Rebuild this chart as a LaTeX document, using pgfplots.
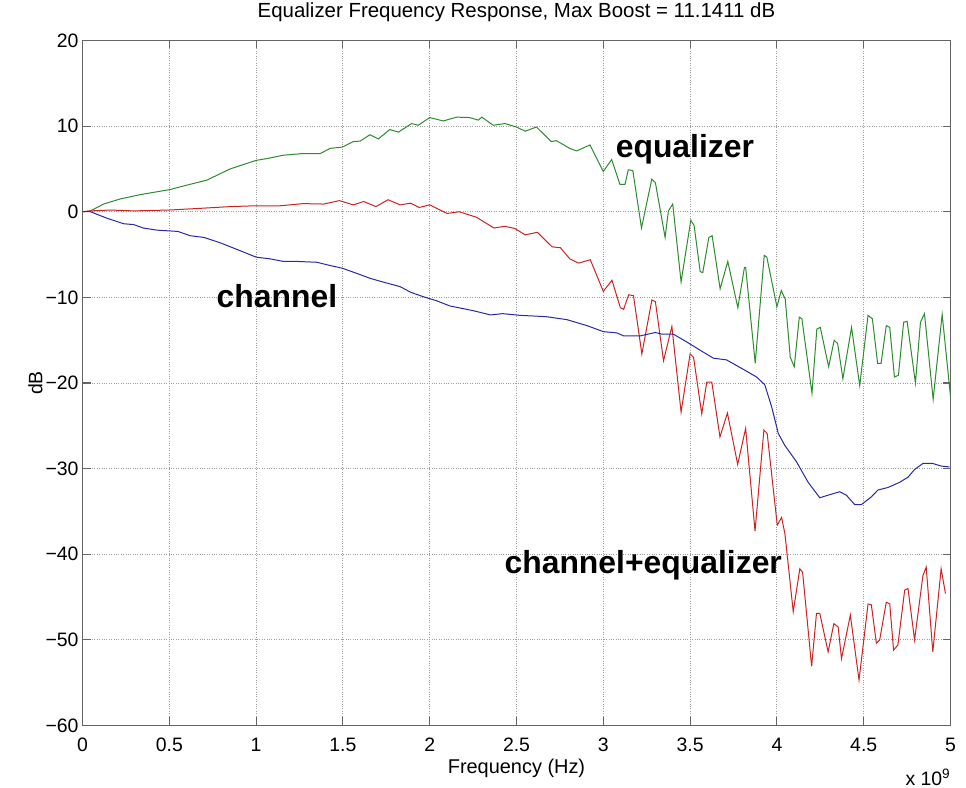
\documentclass[border=0pt]{standalone}
\usepackage{fontspec}
\setmainfont{Liberation Sans}
\usepackage{pgfplots}
\usepackage{pgfplotstable}
\pgfplotsset{compat=1.18}
\definecolor{eqgreen}{RGB}{45,140,45}
\definecolor{chred}{RGB}{205,35,35}
\definecolor{chblue}{RGB}{40,40,170}
\definecolor{axgray}{RGB}{100,100,100}

\pgfplotstableread{
x y
0 0
0.046 0.1
0.122 0.9
0.218 1.5
0.333 2.0
0.506 2.6
0.58 3.0
0.717 3.7
0.85 5.0
1.0 6.0
1.06 6.2
1.157 6.6
1.27 6.8
1.37 6.8
1.426 7.4
1.497 7.55
1.56 8.2
1.6 8.25
1.656 9.0
1.704 8.5
1.77 9.6
1.82 9.3
1.896 10.3
1.934 10.1
2.0 11.0
2.078 10.6
2.155 11.05
2.23 11.0
2.28 10.7
2.3 11.05
2.366 10.1
2.433 10.3
2.5 9.9
2.55 9.4
2.615 9.9
2.7 8.2
2.73 8.3
2.807 7.4
2.846 7.1
2.923 7.8
3.0 4.7
3.048 6.1
3.096 3.2
3.125 3.2
3.144 4.9
3.17 4.8
3.22 -1.9
3.279 3.8
3.30 3.4
3.356 -3.0
3.375 0.1
3.40 0.9
3.448 -8.2
3.504 -1.0
3.523 -1.6
3.558 -7.0
3.573 -7.1
3.608 -3.0
3.627 -2.8
3.673 -9.0
3.717 -5.8
3.775 -11.2
3.813 -6.5
3.82 -6.5
3.875 -17.7
3.927 -5.1
3.942 -5.3
4.0 -11.1
4.025 -9.2
4.048 -10.2
4.077 -17.0
4.1 -18.1
4.129 -12.3
4.144 -12.5
4.202 -21.2
4.23 -13.7
4.25 -13.5
4.298 -18.1
4.33 -15.0
4.35 -15.4
4.38 -19.5
4.43 -13.5
4.477 -20.3
4.525 -12.1
4.55 -12.5
4.58 -17.7
4.6 -17.7
4.63 -13.3
4.65 -13.5
4.677 -19.3
4.70 -19.1
4.73 -12.9
4.75 -12.8
4.798 -20.0
4.827 -12.9
4.85 -11.9
4.9 -21.9
4.952 -12.0
5.0 -21.6
}\equalizer

\pgfplotstableread{
x y
0 0
0.046 0.1
0.16 0.2
0.295 0.1
0.5 0.2
0.68 0.4
0.85 0.6
1.0 0.7
1.14 0.7
1.27 0.95
1.39 0.9
1.48 1.3
1.56 0.8
1.62 1.2
1.69 0.6
1.76 1.4
1.83 0.8
1.89 1.0
1.94 0.5
2.0 0.8
2.1 -0.2
2.17 0.0
2.27 -0.65
2.37 -1.9
2.433 -1.7
2.49 -1.95
2.55 -2.7
2.62 -2.4
2.705 -4.1
2.753 -4.2
2.807 -5.5
2.858 -6.0
2.925 -5.6
3.0 -9.3
3.05 -8.0
3.098 -11.2
3.117 -11.4
3.146 -9.7
3.174 -9.8
3.222 -16.6
3.28 -10.3
3.30 -10.5
3.347 -17.4
3.395 -13.4
3.448 -23.4
3.50 -16.6
3.52 -17.0
3.567 -23.6
3.596 -19.9
3.625 -19.9
3.672 -26.3
3.715 -23.5
3.774 -29.5
3.82 -25.3
3.874 -37.3
3.925 -25.5
3.944 -25.9
4.002 -36.6
4.027 -35.7
4.046 -37.6
4.071 -42.3
4.094 -46.7
4.132 -41.7
4.148 -42.1
4.2 -53.1
4.228 -46.9
4.247 -46.9
4.295 -51.4
4.328 -48.1
4.353 -48.5
4.372 -52.2
4.423 -47.1
4.473 -54.7
4.525 -45.8
4.544 -45.9
4.573 -50.4
4.592 -50.0
4.63 -45.6
4.65 -45.8
4.672 -51.2
4.697 -50.6
4.736 -44.2
4.755 -44.0
4.793 -50.0
4.841 -42.5
4.86 -41.5
4.898 -51.4
4.946 -41.7
4.971 -44.6
}\combined

\pgfplotstableread{
x y
0 0
0.046 0.0
0.14 -0.75
0.237 -1.4
0.295 -1.5
0.35 -1.9
0.43 -2.15
0.55 -2.3
0.62 -2.8
0.7 -3.0
0.79 -3.6
0.89 -4.4
1.0 -5.3
1.08 -5.5
1.157 -5.8
1.234 -5.8
1.35 -5.9
1.41 -6.2
1.497 -6.6
1.58 -7.2
1.66 -7.8
1.73 -8.2
1.83 -8.75
1.89 -9.4
1.96 -9.9
2.04 -10.4
2.116 -11.0
2.25 -11.55
2.35 -12.05
2.42 -11.9
2.52 -12.1
2.67 -12.25
2.79 -12.6
2.906 -13.3
3.0 -14.0
3.078 -14.15
3.117 -14.5
3.213 -14.5
3.30 -14.1
3.337 -14.3
3.404 -14.3
3.48 -15.2
3.56 -16.2
3.634 -17.1
3.71 -17.3
3.806 -18.4
3.883 -19.3
3.93 -20.2
3.97 -22.8
4.008 -25.9
4.046 -27.3
4.113 -29.2
4.18 -31.6
4.247 -33.4
4.295 -33.1
4.362 -32.7
4.40 -33.1
4.448 -34.2
4.487 -34.2
4.544 -33.3
4.582 -32.5
4.64 -32.2
4.707 -31.6
4.755 -31.0
4.793 -30.1
4.841 -29.4
4.898 -29.4
4.946 -29.7
4.994 -29.8
}\channel

\begin{document}
\begin{tikzpicture}
\useasboundingbox (0,0) rectangle (966bp,788bp);
\begin{axis}[
  at={(82.5bp,62.5bp)}, anchor=south west,
  scale only axis, width=868bp, height=685bp,
  xmin=0, xmax=5, ymin=-60, ymax=20,
  xtick={0,0.5,1,1.5,2,2.5,3,3.5,4,4.5,5},
  xticklabels={0,0.5,1,1.5,2,2.5,3,3.5,4,4.5,5},
  ytick={-60,-50,-40,-30,-20,-10,0,10,20},
  yticklabels={−60,−50,−40,−30,−20,−10,0,10,20},
  grid=major,
  major grid style={dotted, gray!75, line width=0.9bp},
  axis line style={axgray, line width=1.1bp},
  tick style={axgray, line width=1.1bp},
  tick align=inside, major tick length=8bp,
  /pgf/number format/assume math mode=true,
  every tick label/.append style={font=\fontsize{19.5}{23}\selectfont, text=black},
  xticklabel style={anchor=base, yshift=-25.5bp},
  yticklabel style={anchor=east, xshift=-0.5bp},
  title={Equalizer Frequency Response, Max Boost = 11.1411 dB},
  title style={at={(0.5,1)}, anchor=base, yshift=17bp, font=\fontsize{20.5}{24}\selectfont},
  xlabel={Frequency (Hz)},
  xlabel style={at={(0.5,0)}, anchor=base, yshift=-48bp, font=\fontsize{20}{24}\selectfont},
  clip mode=individual,
]
\addplot[eqgreen, line width=1bp] table[x=x, y=y] {\equalizer};
\addplot[chred, line width=1bp] table[x=x, y=y] {\combined};
\addplot[chblue, line width=1bp] table[x=x, y=y] {\channel};
\node[anchor=base, font=\bfseries\fontsize{32}{36}\selectfont] at (axis cs:3.47,6.3) {equalizer};
\node[anchor=base, font=\bfseries\fontsize{32}{36}\selectfont] at (axis cs:1.12,-11.2) {channel};
\node[anchor=base, font=\bfseries\fontsize{32}{36}\selectfont] at (axis cs:3.23,-42.25) {channel+equalizer};
\node[anchor=base east, font=\fontsize{19.5}{23}\selectfont, inner sep=0pt] at ([yshift=-60bp]rel axis cs:1,0) {x 10\textsuperscript{9}};
\node[rotate=90, anchor=center, font=\fontsize{19.5}{23}\selectfont] at ([xshift=-47bp]rel axis cs:0,0.5) {dB};
\end{axis}
\end{tikzpicture}
\end{document}
